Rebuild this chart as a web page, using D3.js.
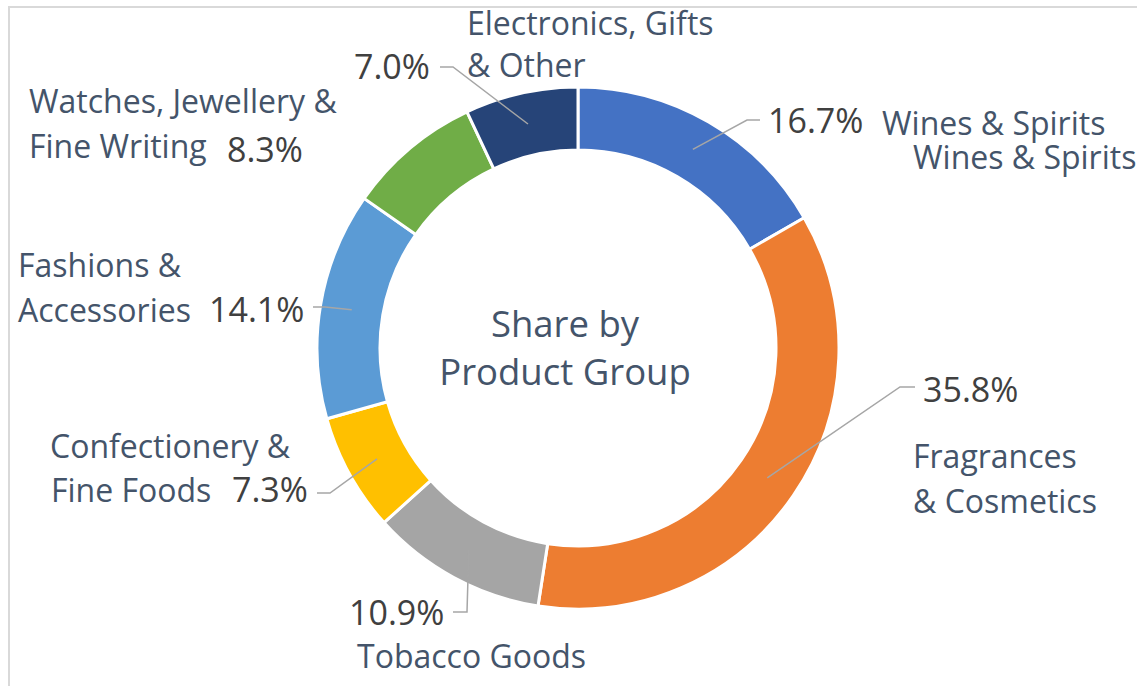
<!DOCTYPE html>
<html>
<head>
<meta charset="utf-8">
<script src="https://cdn.jsdelivr.net/npm/d3@7"></script>
<style>
  html, body { margin: 0; padding: 0; background: #fff; }
  svg { display: block; }
</style>
</head>
<body>
<svg id="chart" width="1137" height="686"></svg>
<script>
// ---- data ----
const categories = [
  "Wines & Spirits",
  "Fragrances & Cosmetics",
  "Tobacco Goods",
  "Confectionery & Fine Foods",
  "Fashions & Accessories",
  "Watches, Jewellery & Fine Writing",
  "Electronics, Gifts & Other"
];
const shares = [16.7, 35.8, 10.9, 7.3, 14.1, 8.3, 7.0];
const pctLabels = ["16.7%", "35.8%", "10.9%", "7.3%", "14.1%", "8.3%", "7.0%"];
const nameLines = [
  ["Wines & Spirits"],
  ["Fragrances", "& Cosmetics"],
  ["Tobacco Goods"],
  ["Confectionery &", "Fine Foods"],
  ["Fashions &", "Accessories"],
  ["Watches, Jewellery &", "Fine Writing"],
  ["Electronics, Gifts", "& Other"]
];
const centerTitle = ["Share by", "Product Group"];

// ---- styles / layout ----
const colors = ["#4472C4", "#ED7D31", "#A5A5A5", "#FFC000", "#5B9BD5", "#70AD47", "#264478"];
const W = 1137, H = 686;
const cx = 578, cy = 348, rOuter = 261, rInner = 198;
const catColor = "#44546A", pctColor = "#404040", leaderColor = "#A6A6A6";
const fontFam = "'Open Sans', 'Noto Sans', sans-serif";
const catSize = 32, pctSize = 34, titleSize = 36.5;

// label layout: pct text position, name text position(s), leader path after centroid
const layout = [
  { pct: [768, 133], names: [[882, 135], [913, 169]], nameText: ["Wines & Spirits", "Wines & Spirits"], leader: [[747, 120], [760, 120]] },
  { pct: [923, 402], names: [[913, 468], [913, 513]], leader: [[900, 387], [915, 387]] },
  { pct: [349, 625], names: [[357, 668]], leader: [[467, 612], [453, 612]] },
  { pct: [232, 502], names: [[50, 458], [51, 502]], leader: [[330, 493], [317, 493]] },
  { pct: [209, 322], names: [[18, 277], [18, 322]], leader: [[325, 307], [313, 307]] },
  { pct: [227, 162], names: [[29, 113], [29, 158]], leader: null },
  { pct: [354, 79], names: [[467, 35], [467, 77]], leader: [[453, 67], [440, 67]] }
];

const svg = d3.select("#chart");

// frame
svg.append("rect")
  .attr("x", 9).attr("y", 7)
  .attr("width", W + 20).attr("height", H + 20)
  .attr("fill", "none")
  .attr("stroke", "#D9D9D9")
  .attr("stroke-width", 2);

const pie = d3.pie().sort(null).value(d => d)(shares);
const arc = d3.arc().innerRadius(rInner).outerRadius(rOuter);

const g = svg.append("g").attr("transform", `translate(${cx},${cy})`);

g.selectAll("path.slice")
  .data(pie)
  .join("path")
  .attr("class", "slice")
  .attr("d", arc)
  .attr("fill", (d, i) => colors[i])
  .attr("stroke", "#fff")
  .attr("stroke-width", 3)
  .attr("stroke-linejoin", "miter");

// leaders
pie.forEach((d, i) => {
  const L = layout[i];
  if (!L.leader) return;
  const c = arc.centroid(d);
  const pts = [[cx + c[0], cy + c[1]], ...L.leader];
  svg.append("path")
    .attr("d", d3.line()(pts))
    .attr("fill", "none")
    .attr("stroke", leaderColor)
    .attr("stroke-width", 1.5);
});

// labels
pie.forEach((d, i) => {
  const L = layout[i];
  svg.append("text")
    .attr("x", L.pct[0]).attr("y", L.pct[1])
    .attr("font-family", fontFam)
    .attr("font-size", pctSize)
    .attr("fill", pctColor)
    .text(pctLabels[i]);
  const lines = L.nameText || nameLines[i];
  lines.forEach((t, k) => {
    svg.append("text")
      .attr("x", L.names[k][0]).attr("y", L.names[k][1])
      .attr("font-family", fontFam)
      .attr("font-size", catSize)
      .attr("fill", catColor)
      .text(t);
  });
});

// center title
svg.append("text")
  .attr("x", 565)
  .attr("text-anchor", "middle")
  .attr("font-family", fontFam)
  .attr("font-size", titleSize)
  .attr("fill", catColor)
  .selectAll("tspan")
  .data(centerTitle)
  .join("tspan")
  .attr("x", 565)
  .attr("y", (d, i) => 337 + i * 48)
  .text(d => d);
</script>
</body>
</html>
